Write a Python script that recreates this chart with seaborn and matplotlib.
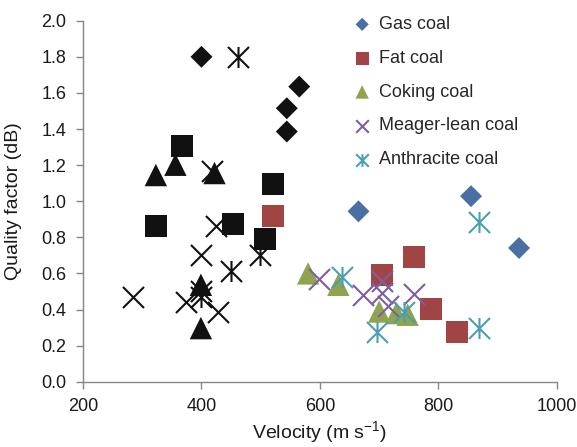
import numpy as np
import pandas as pd
import seaborn as sns
import matplotlib.pyplot as plt
from matplotlib.path import Path

# Coloured series (shown in legend): velocity (m/s) and quality factor (dB)
gas_v = [665, 855, 936]
gas_q = [0.944, 1.028, 0.741]
fat_v = [521, 705, 758, 787, 832]
fat_q = [0.92, 0.593, 0.691, 0.402, 0.278]
coking_v = [580, 631, 700, 729, 748]
coking_q = [0.60, 0.537, 0.389, 0.38, 0.371]
meager_v = [599, 673, 705, 705, 714, 758]
meager_q = [0.571, 0.482, 0.556, 0.491, 0.42, 0.487]
anth_v = [637, 697, 741, 868, 868]
anth_q = [0.578, 0.278, 0.389, 0.30, 0.883]

# Black series (not in legend)
blk_gas_v = [400, 544, 544, 565]
blk_gas_q = [1.80, 1.386, 1.515, 1.635]
blk_fat_v = [323, 367, 454, 507, 521]
blk_fat_q = [0.861, 1.304, 0.872, 0.791, 1.093]
blk_coking_v = [323, 356, 399, 399, 422]
blk_coking_q = [1.145, 1.202, 0.537, 0.297, 1.156]
blk_meager_v = [285, 374, 399, 400, 418, 425, 428]
blk_meager_q = [0.472, 0.444, 0.704, 0.50, 1.17, 0.865, 0.389]
blk_anth_v = [399, 450, 461, 499]
blk_anth_q = [0.472, 0.611, 1.80, 0.704]

labels = ['Gas coal', 'Fat coal', 'Coking coal', 'Meager-lean coal', 'Anthracite coal']
colors = ['#4A6FA5', '#A04543', '#8FA350', '#7D5FA0', '#4A9FB1']

sns.set_theme(style='white')
plt.rcParams['font.family'] = ['Liberation Sans', 'DejaVu Sans']
plt.rcParams['mathtext.default'] = 'regular'

# Excel-like star marker: an X with a vertical bar
star = Path([(-0.5, -0.5), (0.5, 0.5), (-0.5, 0.5), (0.5, -0.5), (0, -0.5), (0, 0.5)],
            [Path.MOVETO, Path.LINETO] * 3)

# (marker, size, filled)
styles = [('D', 125, True), ('s', 250, True), ('^', 260, True),
          ('x', 230, False), (star, 230, False)]

fig = plt.figure(figsize=(5.77, 4.47), dpi=100)
ax = fig.add_axes([0.1438, 0.146, 0.8215, 0.8077])

black = [(blk_gas_v, blk_gas_q), (blk_fat_v, blk_fat_q), (blk_coking_v, blk_coking_q),
         (blk_meager_v, blk_meager_q), (blk_anth_v, blk_anth_q)]
coloured = [(gas_v, gas_q), (fat_v, fat_q), (coking_v, coking_q),
            (meager_v, meager_q), (anth_v, anth_q)]


def draw(v, q, style, c, label=None):
    m, s, filled = style
    kw = dict(x=v, y=q, ax=ax, marker=m, s=s, color=c, label=label)
    if filled:
        kw.update(edgecolor='none', linewidth=0)
    else:
        kw.update(edgecolor=c, linewidth=1.5)
    sns.scatterplot(**kw)


for (v, q), st in zip(black, styles):
    draw(v, q, st, '#111111')
for (v, q), st, c, lab in zip(coloured, styles, colors, labels):
    draw(v, q, st, c, lab)

ax.set_xlim(200, 1000)
ax.set_ylim(0, 2.0)
ax.set_xticks(np.arange(200, 1001, 200))
ax.set_yticks(np.arange(0, 2.01, 0.2))
ax.set_yticklabels([f'{t:.1f}' for t in np.arange(0, 2.01, 0.2)])

for sp in ['top', 'right']:
    ax.spines[sp].set_visible(False)
for sp in ['left', 'bottom']:
    ax.spines[sp].set_color('#868686')
    ax.spines[sp].set_linewidth(1.0)
ax.tick_params(direction='out', length=5, width=1, color='#868686',
               labelsize=13, labelcolor='#1a1a1a', pad=7,
               bottom=True, left=True)

ax.set_xlabel('Velocity (m s$^{-1}$)', fontsize=14, color='#1a1a1a')
ax.set_ylabel('Quality factor (dB)', fontsize=14, color='#1a1a1a')
ax.yaxis.set_label_coords(-0.128, 0.5)
ax.xaxis.set_label_coords(0.5, -0.104)

ax.legend(loc='upper left', bbox_to_anchor=(0.612, 0.964),
          bbox_transform=fig.transFigure, frameon=False, markerscale=0.6,
          fontsize=13, handlelength=1.0, handletextpad=0.45,
          labelspacing=0.93, borderpad=0, borderaxespad=0)

fig.savefig('out.png', dpi=100)
